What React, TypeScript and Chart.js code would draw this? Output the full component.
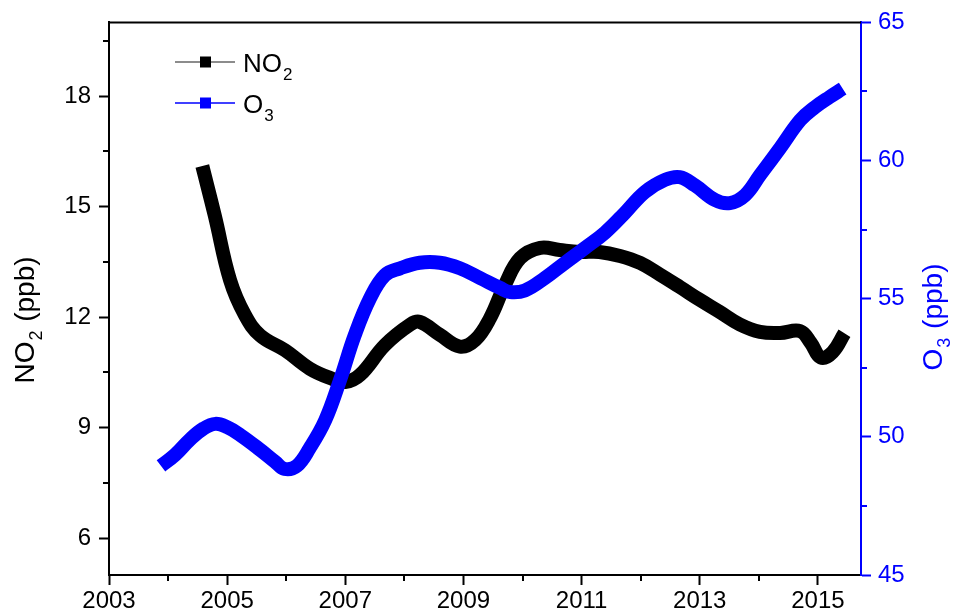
import React, { useEffect, useRef } from 'react';
import { Chart, registerables } from 'chart.js';
Chart.register(...registerables);

const no2Years = [2004.58, 2004.79, 2005.05, 2005.3, 2005.56, 2005.98, 2006.4, 2006.74, 2007.0, 2007.25, 2007.67, 2008.1, 2008.26, 2008.6, 2008.94, 2009.2, 2009.45, 2009.7, 2009.96, 2010.3, 2010.63, 2010.97, 2011.3, 2011.65, 2011.99, 2012.33, 2012.66, 2013.0, 2013.34, 2013.68, 2014.02, 2014.36, 2014.7, 2014.88, 2015.05, 2015.25, 2015.45];
const no2Values = [16.1, 14.76, 13.0, 12.06, 11.5, 11.1, 10.6, 10.35, 10.24, 10.43, 11.24, 11.8, 11.87, 11.52, 11.2, 11.38, 11.97, 12.87, 13.6, 13.88, 13.82, 13.77, 13.77, 13.66, 13.47, 13.15, 12.82, 12.47, 12.14, 11.8, 11.6, 11.57, 11.62, 11.3, 10.9, 11.05, 11.56];

const o3Years = [2003.88, 2004.12, 2004.37, 2004.6, 2004.8, 2005.0, 2005.22, 2005.56, 2005.81, 2005.97, 2006.18, 2006.4, 2006.66, 2006.91, 2007.16, 2007.42, 2007.67, 2007.93, 2008.26, 2008.6, 2008.94, 2009.28, 2009.62, 2009.79, 2010.04, 2010.38, 2010.72, 2011.06, 2011.4, 2011.73, 2012.07, 2012.41, 2012.66, 2012.92, 2013.26, 2013.51, 2013.77, 2014.02, 2014.36, 2014.7, 2014.95, 2015.2, 2015.42];
const o3Values = [48.95, 49.35, 49.9, 50.3, 50.47, 50.35, 50.07, 49.53, 49.1, 48.84, 48.95, 49.6, 50.6, 52.05, 53.68, 55.02, 55.85, 56.1, 56.3, 56.3, 56.1, 55.75, 55.39, 55.24, 55.3, 55.75, 56.3, 56.84, 57.4, 58.1, 58.86, 59.3, 59.4, 59.1, 58.57, 58.46, 58.75, 59.47, 60.45, 61.46, 61.93, 62.3, 62.6];

const xTicks = [2003, 2005, 2007, 2009, 2011, 2013, 2015];
const xMinor = [2004, 2006, 2008, 2010, 2012, 2014];
const leftTicks = [6, 9, 12, 15, 18];
const leftMinor = [7.5, 10.5, 13.5, 16.5, 19.5];
const rightTicks = [45, 50, 55, 60, 65];
const rightMinor = [47.5, 52.5, 57.5, 62.5];

const BLUE = '#0000ff';
const FONT = '"Liberation Sans", Arial, sans-serif';

const decorPlugin = {
  id: 'decor',
  afterDraw(chart: any) {
    const ctx = chart.ctx;
    const { left, right, top, bottom } = chart.chartArea;
    const sx = chart.scales.x;
    const sl = chart.scales.yL;
    const sr = chart.scales.yR;
    ctx.save();
    // top frame
    ctx.strokeStyle = '#000';
    ctx.lineWidth = 2;
    ctx.beginPath();
    ctx.moveTo(left - 1, top);
    ctx.lineTo(right, top);
    ctx.stroke();
    // minor ticks
    ctx.lineWidth = 2;
    ctx.beginPath();
    xMinor.forEach((v) => {
      const px = Math.round(sx.getPixelForValue(v));
      ctx.moveTo(px, bottom);
      ctx.lineTo(px, bottom + 6);
    });
    leftMinor.forEach((v) => {
      const py = Math.round(sl.getPixelForValue(v));
      ctx.moveTo(left, py);
      ctx.lineTo(left - 6, py);
    });
    ctx.stroke();
    ctx.strokeStyle = BLUE;
    ctx.beginPath();
    rightMinor.forEach((v) => {
      const py = Math.round(sr.getPixelForValue(v));
      ctx.moveTo(right, py);
      ctx.lineTo(right + 6, py);
    });
    ctx.stroke();

    const measureSub = (main: string, sub: string, rest: string, size: number, subSize: number) => {
      ctx.font = `${size}px ${FONT}`;
      const w1 = ctx.measureText(main).width;
      ctx.font = `${subSize}px ${FONT}`;
      const w2 = ctx.measureText(sub).width;
      ctx.font = `${size}px ${FONT}`;
      const w3 = ctx.measureText(rest).width;
      return {
        total: w1 + w2 + w3 + 2,
        draw: (ox: number, oy: number, color: string) => {
          ctx.fillStyle = color;
          ctx.textBaseline = 'alphabetic';
          ctx.textAlign = 'left';
          ctx.font = `${size}px ${FONT}`;
          ctx.fillText(main, ox, oy);
          ctx.font = `${subSize}px ${FONT}`;
          ctx.fillText(sub, ox + w1 + 1, oy + 8);
          ctx.font = `${size}px ${FONT}`;
          ctx.fillText(rest, ox + w1 + w2 + 2, oy);
        },
      };
    };

    // left title
    {
      const m = measureSub('NO', '2', ' (ppb)', 28, 18);
      ctx.save();
      ctx.translate(34, 320);
      ctx.rotate(-Math.PI / 2);
      m.draw(-m.total / 2, 0, '#000');
      ctx.restore();
    }
    // right title
    {
      const m = measureSub('O', '3', ' (ppb)', 28, 18);
      ctx.save();
      ctx.translate(942, 317);
      ctx.rotate(-Math.PI / 2);
      m.draw(-m.total / 2, 0, BLUE);
      ctx.restore();
    }

    // legend
    const legendRow = (y: number, lineColor: string, markColor: string, main: string, sub: string) => {
      ctx.strokeStyle = lineColor;
      ctx.lineWidth = 1.3;
      ctx.beginPath();
      ctx.moveTo(175, y);
      ctx.lineTo(235, y);
      ctx.stroke();
      ctx.fillStyle = markColor;
      ctx.fillRect(200, y - 5.5, 11, 11);
      ctx.fillStyle = '#000';
      ctx.font = `26px ${FONT}`;
      ctx.textAlign = 'left';
      ctx.textBaseline = 'alphabetic';
      ctx.fillText(main, 243, y + 10);
      const w = ctx.measureText(main).width;
      ctx.font = `17px ${FONT}`;
      ctx.fillText(sub, 243 + w + 1, y + 18);
    };
    legendRow(62, '#666', '#000', 'NO', '2');
    legendRow(103, BLUE, BLUE, 'O', '3');
    ctx.restore();
  },
};

export default function App() {
  const ref = useRef<HTMLCanvasElement>(null);
  useEffect(() => {
    if (!ref.current) return;
    const chart = new Chart(ref.current, {
      type: 'line',
      data: {
        datasets: [
          {
            label: 'O3',
            data: o3Years.map((x, i) => ({ x, y: o3Values[i] })),
            yAxisID: 'yR',
            borderColor: BLUE,
            backgroundColor: BLUE,
            borderWidth: 14,
            pointRadius: 0,
            tension: 0.4,
            borderCapStyle: 'butt',
            order: 0,
          },
          {
            label: 'NO2',
            data: no2Years.map((x, i) => ({ x, y: no2Values[i] })),
            yAxisID: 'yL',
            borderColor: '#000',
            backgroundColor: '#000',
            borderWidth: 14,
            pointRadius: 0,
            tension: 0.4,
            borderCapStyle: 'butt',
            order: 1,
          },
        ],
      },
      options: {
        animation: false,
        responsive: false,
        events: [],
        layout: { padding: { top: 22, left: 0, right: 0, bottom: 0 } },
        plugins: { legend: { display: false }, tooltip: { enabled: false } },
        scales: {
          x: {
            type: 'linear',
            min: 2003,
            max: 2015.73,
            afterBuildTicks: (s: any) => { s.ticks = xTicks.map((v) => ({ value: v })); },
            afterFit: (s: any) => { s.height = 41; },
            grid: { drawOnChartArea: false, drawTicks: true, tickLength: 10, tickColor: '#000', tickWidth: 2 },
            border: { display: true, color: '#000', width: 2 },
            ticks: { color: '#000', font: { family: FONT, size: 24 }, padding: 2, maxRotation: 0, autoSkip: false, callback: (v: any) => String(v) },
          },
          yL: {
            type: 'linear',
            position: 'left',
            min: 5,
            max: 20,
            afterBuildTicks: (s: any) => { s.ticks = leftTicks.map((v) => ({ value: v })); },
            afterFit: (s: any) => { s.width = 109; },
            grid: { drawOnChartArea: false, drawTicks: true, tickLength: 10, tickColor: '#000', tickWidth: 2 },
            border: { display: true, color: '#000', width: 2 },
            ticks: { color: '#000', font: { family: FONT, size: 24 }, padding: 8, autoSkip: false },
          },
          yR: {
            type: 'linear',
            position: 'right',
            min: 45,
            max: 65,
            afterBuildTicks: (s: any) => { s.ticks = rightTicks.map((v) => ({ value: v })); },
            afterFit: (s: any) => { s.width = 92; },
            grid: { drawOnChartArea: false, drawTicks: true, tickLength: 10, tickColor: BLUE, tickWidth: 2 },
            border: { display: true, color: BLUE, width: 2 },
            ticks: { color: BLUE, font: { family: FONT, size: 24 }, padding: 7, autoSkip: false },
          },
        },
      },
      plugins: [decorPlugin],
    } as any);
    return () => chart.destroy();
  }, []);
  return (
    <div style={{ position: 'absolute', left: 0, top: 0, width: 953, height: 616, background: '#fff' }}>
      <canvas ref={ref} width={953} height={616} style={{ display: 'block', width: 953, height: 616 }} />
    </div>
  );
}
